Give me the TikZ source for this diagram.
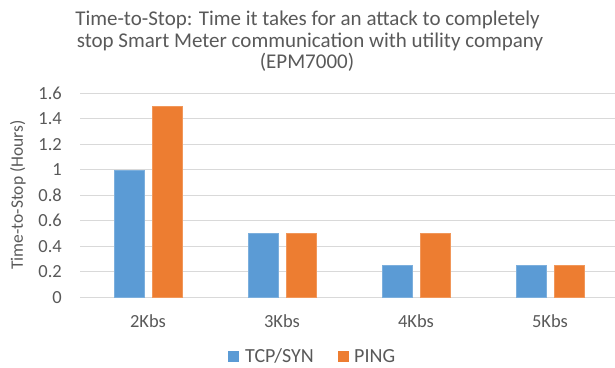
\documentclass[tikz,border=0pt]{standalone}
\usepackage{fontspec}
\setmainfont{Carlito}
\definecolor{txt}{HTML}{595959}
\definecolor{grid}{HTML}{D9D9D9}
\definecolor{tcpblue}{HTML}{5B9BD5}
\definecolor{pingorange}{HTML}{ED7D31}
\begin{document}
\begin{tikzpicture}[x=1pt,y=-1pt,
  lbl/.style={text=txt,inner sep=0pt,font=\fontsize{18.5}{20}\selectfont},
  ttl/.style={text=txt,inner sep=0pt,anchor=base,font=\fontsize{21}{24}\selectfont},
  gridline/.style={draw=grid,line width=1.3pt},
  tcpbar/.style={fill=tcpblue,draw=tcpblue!80!white,line width=0.6pt},
  pingbar/.style={fill=pingorange,draw=pingorange!80!white,line width=0.6pt}]
\useasboundingbox (0,0) rectangle (615,367);
% value v sits at y = 297.3 - 127.5 v
\def\yv#1{297.3-127.5*#1}
% chart title
\node[ttl] (t1) at (307.5,25) {Time-to-Stop: Time it takes for an attack to completely};
\node[ttl] (t2) at (310,47) {stop Smart Meter communication with utility company};
\node[ttl] (t3) at (307,68) {(EPM7000)};
% gridlines and tick labels
\foreach \v/\s in {0/0,0.2/0.2,0.4/0.4,0.6/0.6,0.8/0.8,1/1,1.2/1.2,1.4/1.4,1.6/1.6}{
  \draw[gridline] (80,{\yv{\v}}) -- (615,{\yv{\v}});
  \node[lbl,anchor=east] (tick\s) at (62,{\yv{\v}}) {\s};
}
% axis title
\node[lbl,rotate=90,font=\fontsize{17.5}{20}\selectfont] (ytitle) at (18,195) {Time-to-Stop (Hours)};
% bars: category centre / TCP-SYN value / PING value / label
\foreach \c/\a/\b/\n in {148/1/1.5/2Kbs,282/0.5/0.5/3Kbs,416/0.25/0.5/4Kbs,550/0.25/0.25/5Kbs}{
  \path[tcpbar] (\c-34,{\yv{0}}) rectangle (\c-4,{\yv{\a}});
  \path[pingbar] (\c+4,{\yv{0}}) rectangle (\c+34,{\yv{\b}});
  \node[lbl,anchor=base] (cat\n) at (\c,327) {\n};
}
% legend
\fill[tcpblue] (228,351) rectangle (239,362);
\node[lbl,anchor=base west,font=\fontsize{20}{22}\selectfont] (legtcp) at (245,362) {TCP/SYN};
\fill[pingorange] (338,351) rectangle (349,362);
\node[lbl,anchor=base west,font=\fontsize{20}{22}\selectfont] (legping) at (354,362) {PING};
\end{tikzpicture}
\end{document}
